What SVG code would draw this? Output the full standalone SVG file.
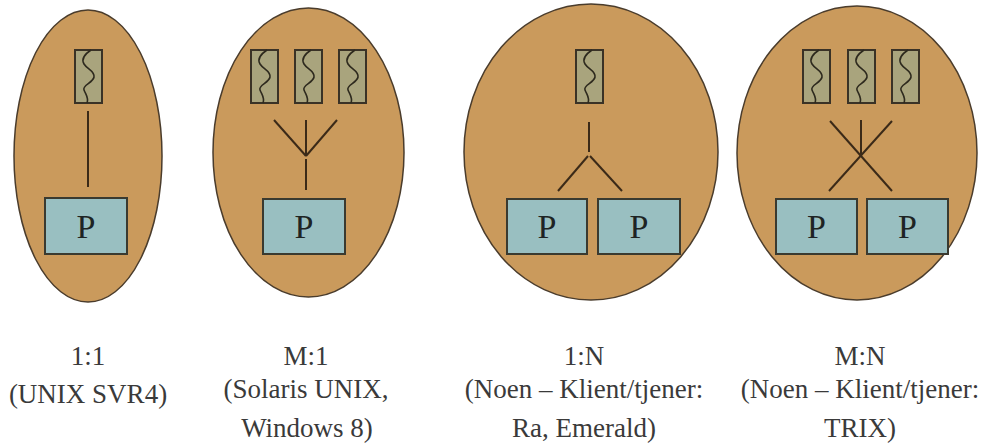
<svg xmlns="http://www.w3.org/2000/svg" xmlns:xlink="http://www.w3.org/1999/xlink" width="985" height="443" viewBox="0 0 985 443">
  <style>
    .proc { fill: #CA9A5C; stroke: #4A3C2C; stroke-width: 1.5; }
    .thread { fill: #A9A47D; stroke: #3A3226; stroke-width: 2; }
    .wave { fill: none; stroke: #2E2A1E; stroke-width: 1.6; }
    .cpu { fill: #99BFC1; stroke: #3A3A30; stroke-width: 2; }
    .cpu-label { font-family: 'Liberation Serif', 'DejaVu Serif', serif; font-size: 34px; fill: #1E2424; text-anchor: middle; }
    .link { stroke: #3B2A18; stroke-width: 2; fill: none; }
    .caption { font-family: 'Liberation Serif', 'DejaVu Serif', serif; font-size: 27px; fill: #3A3A3A; text-anchor: middle; }
  </style>
  <defs>
    <!-- kernel-thread symbol: box with a wavy strand -->
    <g id="kthread">
      <rect class="thread" x="0" y="0" width="27" height="53"/>
      <path class="wave" d="M16,0 C10,4 6,9 9,14 S20,21 19,27 S7,35 9,40 S14,48 12,53"/>
    </g>
  </defs>

  <!-- 1:1 -->
  <g id="model-1to1">
    <ellipse class="proc" cx="88" cy="156" rx="74" ry="146"/>
    <use xlink:href="#kthread" x="75" y="50"/>
    <g id="cpu-1to1">
      <rect class="cpu" x="45" y="198" width="82" height="56"/>
      <text class="cpu-label" x="86" y="238">P</text>
    </g>
  </g>

  <!-- M:1 -->
  <g id="model-mto1">
    <ellipse class="proc" cx="308.5" cy="152.5" rx="95.5" ry="144.5"/>
    <use xlink:href="#kthread" x="251" y="50"/>
    <use xlink:href="#kthread" x="295" y="50"/>
    <use xlink:href="#kthread" x="339" y="50"/>
    <g id="cpu-mto1">
      <rect class="cpu" x="263" y="199" width="82" height="55"/>
      <text class="cpu-label" x="304" y="238">P</text>
    </g>
  </g>

  <!-- 1:N -->
  <g id="model-1toN">
    <ellipse class="proc" cx="591" cy="152" rx="127" ry="148"/>
    <use xlink:href="#kthread" x="576" y="50"/>
    <g id="cpu-1toN-a">
      <rect class="cpu" x="507" y="199" width="80" height="55"/>
      <text class="cpu-label" x="547" y="238">P</text>
    </g>
    <g id="cpu-1toN-b">
      <rect class="cpu" x="598" y="199" width="82" height="55"/>
      <text class="cpu-label" x="639" y="238">P</text>
    </g>
  </g>

  <!-- M:N -->
  <g id="model-mtoN">
    <ellipse class="proc" cx="857" cy="153" rx="120" ry="147"/>
    <use xlink:href="#kthread" x="803" y="50"/>
    <use xlink:href="#kthread" x="848" y="50"/>
    <use xlink:href="#kthread" x="892" y="50"/>
    <g id="cpu-mtoN-a">
      <rect class="cpu" x="776" y="199" width="81" height="55"/>
      <text class="cpu-label" x="816.5" y="238">P</text>
    </g>
    <g id="cpu-mtoN-b">
      <rect class="cpu" x="867" y="199" width="81" height="55"/>
      <text class="cpu-label" x="907.5" y="238">P</text>
    </g>
  </g>

  <!-- thread-to-processor mappings -->
  <g id="connectors">
    <line class="link" x1="88" y1="111" x2="88" y2="187"/>

    <line class="link" x1="274" y1="120" x2="306" y2="156"/>
    <line class="link" x1="306" y1="120" x2="306" y2="156"/>
    <line class="link" x1="337" y1="120" x2="306" y2="156"/>
    <line class="link" x1="306" y1="159" x2="306" y2="190"/>

    <line class="link" x1="589" y1="122" x2="589" y2="152"/>
    <line class="link" x1="588" y1="156" x2="558" y2="191"/>
    <line class="link" x1="590" y1="156" x2="622" y2="191"/>

    <line class="link" x1="830" y1="121" x2="892" y2="191"/>
    <line class="link" x1="892" y1="121" x2="829" y2="191"/>
    <line class="link" x1="861" y1="120" x2="861" y2="156"/>
  </g>

  <!-- captions -->
  <g id="captions">
    <text class="caption" x="88" y="365">1:1</text>
    <text class="caption" x="88" y="403">(UNIX SVR4)</text>

    <text class="caption" x="306" y="365">M:1</text>
    <text class="caption" x="306" y="398">(Solaris UNIX,</text>
    <text class="caption" x="307" y="437">Windows 8)</text>

    <text class="caption" x="584" y="365">1:N</text>
    <text class="caption" x="584" y="398">(Noen – Klient/tjener:</text>
    <text class="caption" x="584" y="437">Ra, Emerald)</text>

    <text class="caption" x="860" y="365">M:N</text>
    <text class="caption" x="860" y="398">(Noen – Klient/tjener:</text>
    <text class="caption" x="860" y="437">TRIX)</text>
  </g>
</svg>
